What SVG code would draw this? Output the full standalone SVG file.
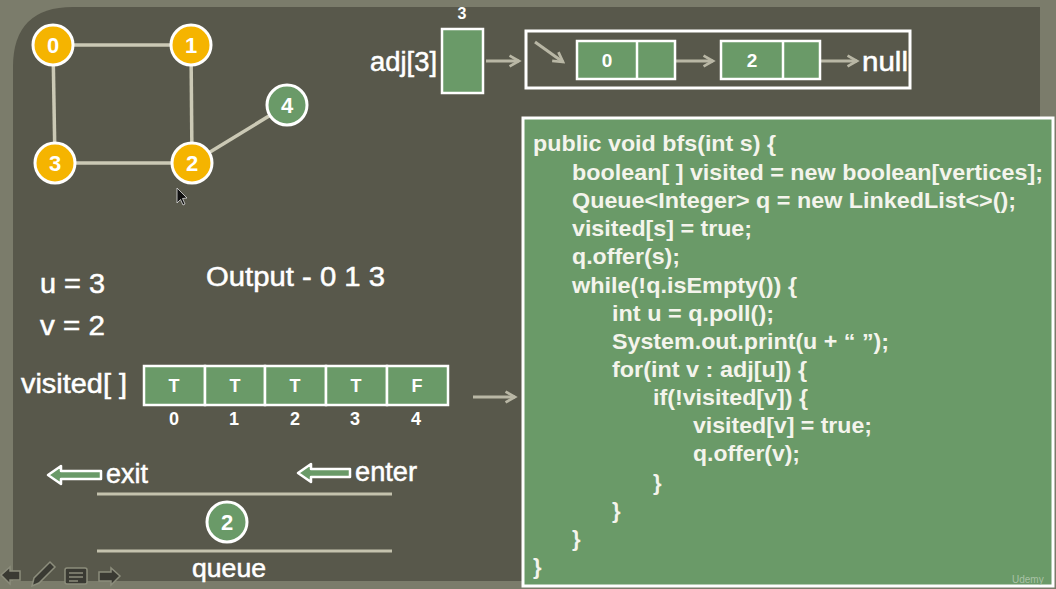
<svg xmlns="http://www.w3.org/2000/svg" width="1056" height="589" viewBox="0 0 1056 589">
<style>
.t{font-family:"Liberation Sans",Arial,sans-serif;fill:#fff}
.big{font-size:27px;stroke:#fff;stroke-width:0.5}
.b{font-weight:bold}
.code{font-family:"Liberation Sans",Arial,sans-serif;fill:#f4f4ec;font-size:22px;font-weight:bold}
.edge{stroke:#cbc9b5;stroke-width:3.5;fill:none}
.ynode{fill:#f5b400;stroke:#fff;stroke-width:3}
.gnode{fill:#6a9a68;stroke:#fff;stroke-width:3}
.cell{fill:#6a9a68;stroke:#fff;stroke-width:2.5}
.ptr{stroke:#b9b7a5;stroke-width:3;fill:none;marker-end:url(#ah)}
.rule{stroke:#c4c2ad;stroke-width:3}
.harrow{fill:#6a9a68;stroke:#fff;stroke-width:2.5;stroke-linejoin:round}
.icon{fill:#3a3a33;stroke:#8c8d7c;stroke-width:1.5}
</style>
<defs>
<marker id="ah" viewBox="0 0 10 10" refX="8" refY="5" markerWidth="4.5" markerHeight="4.5" orient="auto">
<path d="M1,1 L8,5 L1,9" fill="none" stroke="#b9b7a5" stroke-width="2"/>
</marker>
</defs>
<rect width="1056" height="589" fill="#7b7c6b"/>
<path d="M73,7 H1040 V581 H13 V67 Q13,7 73,7 Z" fill="#58584b"/>

<g id="connectors">
<line class="edge" x1="53" y1="45" x2="191" y2="45"/>
<line class="edge" x1="53" y1="45" x2="55" y2="163"/>
<line class="edge" x1="191" y1="45" x2="192" y2="163"/>
<line class="edge" x1="55" y1="163" x2="192" y2="163"/>
<line class="edge" x1="192" y1="163" x2="287" y2="105"/>
<line class="ptr" x1="486" y1="61" x2="519" y2="61"/>
<line class="ptr" x1="535" y1="42" x2="563" y2="62"/>
<line class="ptr" x1="655" y1="61" x2="713" y2="61"/>
<line class="ptr" x1="800" y1="61" x2="857" y2="61"/>
<line class="ptr" x1="473" y1="397" x2="515" y2="397"/>
</g>

<g id="node0"><circle class="ynode" cx="53" cy="45" r="20"/><text class="t b" x="53" y="53" font-size="22" text-anchor="middle">0</text></g>
<g id="node1"><circle class="ynode" cx="191" cy="45" r="20"/><text class="t b" x="191" y="53" font-size="22" text-anchor="middle">1</text></g>
<g id="node3"><circle class="ynode" cx="55" cy="163" r="20"/><text class="t b" x="55" y="171" font-size="22" text-anchor="middle">3</text></g>
<g id="node2"><circle class="ynode" cx="192" cy="163" r="20"/><text class="t b" x="192" y="171" font-size="22" text-anchor="middle">2</text></g>
<g id="node4"><circle class="gnode" cx="287" cy="105" r="20"/><text class="t b" x="287" y="113" font-size="22" text-anchor="middle">4</text></g>

<path d="M177,188 L177,203 L180.5,199.5 L183,205 L185,204 L182.5,198.5 L187,198 Z" fill="#111" stroke="#ddd" stroke-width="0.8"/>

<g id="adj">
<text class="t b" x="462" y="19" font-size="16" text-anchor="middle">3</text>
<text class="t big" x="370" y="71" textLength="67" lengthAdjust="spacingAndGlyphs">adj[3]</text>
<rect class="cell" x="442" y="29" width="41" height="64"/>
</g>
<g id="list">
<rect x="526" y="31" width="384" height="57" fill="none" stroke="#fff" stroke-width="3"/>
<g id="ln0"><rect class="cell" x="577" y="41" width="98" height="38"/><line x1="637" y1="41" x2="637" y2="79" stroke="#fff" stroke-width="2.5"/><text class="t b" x="607" y="67" font-size="19" text-anchor="middle">0</text></g>
<g id="ln2"><rect class="cell" x="721" y="41" width="99" height="38"/><line x1="783" y1="41" x2="783" y2="79" stroke="#fff" stroke-width="2.5"/><text class="t b" x="752" y="67" font-size="19" text-anchor="middle">2</text></g>
<text class="t big" x="862" y="71" textLength="46" lengthAdjust="spacingAndGlyphs">null</text>
</g>

<g id="vars">
<text class="t big" x="40" y="293" textLength="65" lengthAdjust="spacingAndGlyphs">u = 3</text>
<text class="t big" x="40" y="335" textLength="65" lengthAdjust="spacingAndGlyphs">v = 2</text>
<text class="t big" x="206" y="286" textLength="179" lengthAdjust="spacingAndGlyphs">Output - 0 1 3</text>
</g>

<g id="visited">
<text class="t big" x="21" y="393" textLength="106" lengthAdjust="spacingAndGlyphs">visited[ ]</text>
<rect class="cell" x="144" y="366" width="61" height="39"/>
<rect class="cell" x="205" y="366" width="60" height="39"/>
<rect class="cell" x="265" y="366" width="61" height="39"/>
<rect class="cell" x="326" y="366" width="61" height="39"/>
<rect class="cell" x="387" y="366" width="61" height="39"/>
<g class="t b" font-size="18" text-anchor="middle">
<text x="174" y="392">T</text><text x="235" y="392">T</text><text x="295" y="392">T</text><text x="356" y="392">T</text><text x="417" y="392">F</text>
<text x="174" y="425">0</text><text x="234" y="425">1</text><text x="295" y="425">2</text><text x="355" y="425">3</text><text x="416" y="425">4</text>
</g>
</g>

<g id="queue">
<polygon class="harrow" points="48,475 61,466 61,471 101,471 101,479 61,479 61,484"/>
<text class="t big" x="106" y="483" textLength="42" lengthAdjust="spacingAndGlyphs">exit</text>
<polygon class="harrow" points="298,473 311,464 311,469 350,469 350,477 311,477 311,482"/>
<text class="t big" x="355" y="481" textLength="62" lengthAdjust="spacingAndGlyphs">enter</text>
<line class="rule" x1="97" y1="494" x2="392" y2="494"/>
<line class="rule" x1="97" y1="551" x2="392" y2="551"/>
<g id="q2"><circle class="gnode" cx="227" cy="522" r="20"/><text class="t b" x="227" y="530" font-size="22" text-anchor="middle">2</text></g>
<text class="t" x="192" y="577" font-size="25" stroke="#fff" stroke-width="0.5" textLength="74" lengthAdjust="spacingAndGlyphs">queue</text>
</g>

<g id="code">
<rect x="523" y="118" width="530" height="468" fill="#6a9a68" stroke="#fff" stroke-width="3"/>
<text class="code" x="533" y="151" textLength="243" lengthAdjust="spacingAndGlyphs">public void bfs(int s) {</text>
<text class="code" x="572" y="180" textLength="471" lengthAdjust="spacingAndGlyphs">boolean[ ] visited = new boolean[vertices];</text>
<text class="code" x="572" y="208" textLength="444" lengthAdjust="spacingAndGlyphs">Queue&lt;Integer&gt; q = new LinkedList&lt;&gt;();</text>
<text class="code" x="572" y="236" textLength="180" lengthAdjust="spacingAndGlyphs">visited[s] = true;</text>
<text class="code" x="572" y="264" textLength="108" lengthAdjust="spacingAndGlyphs">q.offer(s);</text>
<text class="code" x="572" y="293" textLength="225" lengthAdjust="spacingAndGlyphs">while(!q.isEmpty()) {</text>
<text class="code" x="612" y="321" textLength="162" lengthAdjust="spacingAndGlyphs">int u = q.poll();</text>
<text class="code" x="612" y="349" textLength="277" lengthAdjust="spacingAndGlyphs">System.out.print(u + “ ”);</text>
<text class="code" x="612" y="377" textLength="195" lengthAdjust="spacingAndGlyphs">for(int v : adj[u]) {</text>
<text class="code" x="653" y="405" textLength="155" lengthAdjust="spacingAndGlyphs">if(!visited[v]) {</text>
<text class="code" x="693" y="433" textLength="179" lengthAdjust="spacingAndGlyphs">visited[v] = true;</text>
<text class="code" x="693" y="461" textLength="107" lengthAdjust="spacingAndGlyphs">q.offer(v);</text>
<text class="code" x="653" y="490">}</text>
<text class="code" x="612" y="518">}</text>
<text class="code" x="572" y="546">}</text>
<text class="code" x="533" y="574">}</text>
<text x="1012" y="583" font-family="Liberation Sans,Arial,sans-serif" font-size="10" fill="#a9c2a6">Udemy</text>
</g>

<g id="controls">
<path class="icon" d="M1,575 L10,567 L10,571 L20,571 L20,580 L10,580 L10,584 Z"/>
<path class="icon" d="M32,586 L34,578 L50,562 L55,567 L39,583 Z"/>
<rect class="icon" x="65" y="568" width="22" height="16" rx="2"/>
<line x1="69" y1="573" x2="83" y2="573" stroke="#8c8d7c" stroke-width="1.5"/>
<line x1="69" y1="577" x2="83" y2="577" stroke="#8c8d7c" stroke-width="1.5"/>
<line x1="69" y1="581" x2="78" y2="581" stroke="#8c8d7c" stroke-width="1.5"/>
<path class="icon" d="M120,576 L111,568 L111,572 L99,572 L99,581 L111,581 L111,585 Z"/>
</g>
</svg>
